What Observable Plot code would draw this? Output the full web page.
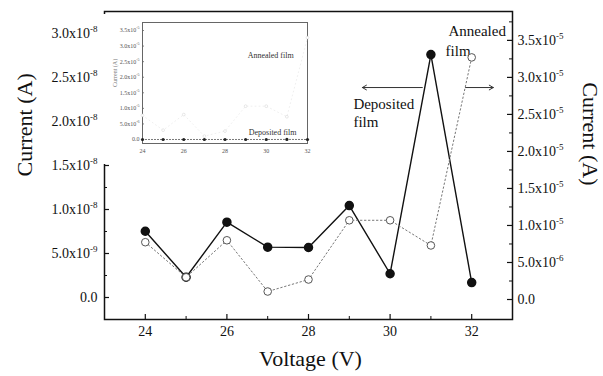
<!DOCTYPE html>
<html>
<head>
<meta charset="utf-8">
<script src="https://cdn.jsdelivr.net/npm/d3@7"></script>
<script src="https://cdn.jsdelivr.net/npm/@observablehq/plot@0.6"></script>
<style>
  body { margin: 0; background: #fff; }
  #wrap { position: relative; width: 603px; height: 376px; background: #fff; }
  #wrap > svg, #wrap > figure { position: absolute; margin: 0; }
</style>
</head>
<body>
<div id="wrap"></div>
<script>
// ---- data ----
const voltage = [24, 25, 26, 27, 28, 29, 30, 31, 32];
// Deposited film (filled circles, left axis, A)
const deposited = [0.753e-8, 0.23e-8, 0.856e-8, 0.572e-8, 0.568e-8, 1.045e-8, 0.27e-8, 2.76e-8, 0.17e-8];
// Annealed film (open circles, right axis, A)
const annealed = [0.774e-5, 0.30e-5, 0.80e-5, 0.108e-5, 0.27e-5, 1.07e-5, 1.07e-5, 0.73e-5, 3.27e-5];

const xTicks = [24, 26, 28, 30, 32];
const xMinor = [25, 27, 29, 31];
const leftTicks = [0, 0.5e-8, 1.0e-8, 1.5e-8, 2.0e-8, 2.5e-8, 3.0e-8];
const leftMinor = [0.25e-8, 0.75e-8, 1.25e-8, 1.75e-8, 2.25e-8, 2.75e-8];
const rightTicks = [0, 0.5e-5, 1.0e-5, 1.5e-5, 2.0e-5, 2.5e-5, 3.0e-5, 3.5e-5];
const rightMinor = [0.25e-5, 0.75e-5, 1.25e-5, 1.75e-5, 2.25e-5, 2.75e-5, 3.25e-5, 3.75e-5];
const insetTicks = [0, 0.5e-5, 1.0e-5, 1.5e-5, 2.0e-5, 2.5e-5, 3.0e-5, 3.5e-5];

const dep = voltage.map((v, i) => ({v, c: deposited[i]}));
const ann = voltage.map((v, i) => ({v, c: annealed[i]}));

function sci(v) {
  if (v === 0) return "0.0";
  const e = Math.floor(Math.log10(Math.abs(v)) + 1e-9);
  const m = v / Math.pow(10, e);
  return m.toFixed(1) + "x10^" + e;
}
function supify(svg, size, shift) {
  d3.select(svg).selectAll("text").each(function () {
    const t = this.textContent;
    if (t.includes("^") && this.children.length === 0) {
      const [a, b] = t.split("^");
      this.textContent = "";
      const s = d3.select(this);
      s.append("tspan").text(a);
      s.append("tspan").attr("font-size", size).attr("dy", -shift).text(b);
    }
  });
}

const serif = "'Liberation Serif', 'Times New Roman', serif";
const W = 603, H = 376;
const M = {marginLeft: 104, marginRight: 91, marginTop: 11, marginBottom: 57};
const FW = W - M.marginLeft - M.marginRight; // 408
const FH = H - M.marginTop - M.marginBottom; // 308
const ink = "#111";

// ---- main (left axis) ----
const main = Plot.plot({
  width: W, height: H, ...M,
  style: {fontFamily: serif, background: "transparent", color: ink},
  x: {domain: [23, 33]},
  y: {domain: [-0.25e-8, 3.25e-8]},
  marks: [
    Plot.frame({stroke: ink, strokeWidth: 1.5}),
    // inward ticks
    Plot.tickX(xTicks, {x: d => d, insetTop: FH - 5, stroke: ink, strokeWidth: 1.2}),
    Plot.tickX(xMinor, {x: d => d, insetTop: FH - 3, stroke: ink, strokeWidth: 1}),
    Plot.tickY(leftTicks, {y: d => d, insetRight: FW - 5, stroke: ink, strokeWidth: 1.2}),
    Plot.tickY(leftMinor, {y: d => d, insetRight: FW - 3, stroke: ink, strokeWidth: 1}),
    Plot.axisX({ticks: xTicks, tickSize: 0, tickPadding: 7, fontSize: 14, label: null, tickFormat: d => String(d)}),
    Plot.axisY({ticks: leftTicks, tickSize: 0, tickPadding: 7, fontSize: 14, label: null, tickFormat: sci}),
    Plot.line(dep, {x: "v", y: "c", stroke: ink, strokeWidth: 1.4}),
    Plot.dot(dep, {x: "v", y: "c", r: 4, fill: ink, stroke: ink}),
    Plot.text(["Current (A)"], {frameAnchor: "left", rotate: -90, dx: -80, dy: 11, fontSize: 22, fill: ink}),
    Plot.text(["Voltage (V)"], {frameAnchor: "bottom", dx: 2, dy: 46, fontSize: 22, fill: ink}),
    Plot.text(["Deposited"], {x: 29.1, y: 2.20e-8, textAnchor: "start", fontSize: 15, fill: ink}),
    Plot.text(["film"], {x: 29.1, y: 1.99e-8, textAnchor: "start", fontSize: 15, fill: ink}),
    Plot.text(["Annealed"], {x: 31.43, y: 3.03e-8, textAnchor: "start", fontSize: 15, fill: ink}),
    Plot.text(["film"], {x: 31.36, y: 2.80e-8, textAnchor: "start", fontSize: 15, fill: ink}),
    Plot.arrow([0], {x1: 30.79, x2: 29.32, y1: 2.386e-8, y2: 2.386e-8, stroke: "#333", strokeWidth: 1, headLength: 7}),
    Plot.arrow([0], {x1: 31.85, x2: 32.53, y1: 2.386e-8, y2: 2.386e-8, stroke: "#333", strokeWidth: 1, headLength: 7})
  ]
});
supify(main, 9, 6);

// ---- overlay (right axis) ----
const right = Plot.plot({
  width: W, height: H, ...M,
  style: {fontFamily: serif, background: "transparent", color: ink},
  x: {domain: [23, 33], axis: null},
  y: {domain: [-0.27e-5, 3.89e-5], axis: null},
  marks: [
    Plot.tickY(rightTicks, {y: d => d, insetLeft: FW - 5, stroke: ink, strokeWidth: 1.2}),
    Plot.tickY(rightMinor, {y: d => d, insetLeft: FW - 3, stroke: ink, strokeWidth: 1}),
    Plot.axisY({anchor: "right", ticks: rightTicks, tickSize: 0, tickPadding: 5, fontSize: 14, label: null, tickFormat: sci}),
    Plot.line(ann, {x: "v", y: "c", stroke: "#777", strokeWidth: 1, strokeDasharray: "1.5,2.5"}),
    Plot.dot(ann, {x: "v", y: "c", r: 3.8, fill: "white", stroke: "#555", strokeWidth: 1}),
    Plot.text(["Current (A)"], {frameAnchor: "right", rotate: 90, dx: 78, dy: 20, fontSize: 22, fill: ink})
  ]
});
supify(right, 9, 6);

// ---- inset ----
const IW = 215, IH = 150;
const IM = {marginLeft: 42, marginRight: 8, marginTop: 8, marginBottom: 21};
const IFW = IW - IM.marginLeft - IM.marginRight;
const inset = Plot.plot({
  width: IW, height: IH, ...IM,
  style: {fontFamily: serif, background: "white", color: "#555"},
  x: {domain: [24, 32]},
  y: {domain: [-0.128e-5, 3.757e-5]},
  marks: [
    Plot.frame({stroke: "#666", strokeWidth: 1}),
    Plot.tickY(insetTicks, {y: d => d, insetRight: IFW - 2, stroke: "#666", strokeWidth: 0.8}),
    Plot.axisX({ticks: xTicks, tickSize: 0, tickPadding: 5, fontSize: 6, label: null, tickFormat: d => String(d)}),
    Plot.axisY({ticks: insetTicks, tickSize: 0, tickPadding: 3, fontSize: 6, label: null, tickFormat: sci}),
    Plot.line(ann, {x: "v", y: "c", stroke: "#e4e4e4", strokeWidth: 0.6, strokeDasharray: "1,3"}),
    Plot.dot(ann, {x: "v", y: "c", r: 1.4, fill: "white", stroke: "#d0d0d0", strokeWidth: 0.5}),
    Plot.line(dep, {x: "v", y: "c", stroke: "#444", strokeWidth: 0.8, strokeDasharray: "1,2"}),
    Plot.dot(dep, {x: "v", y: "c", r: 1.6, fill: "#222"}),
    Plot.text(["Current (A)"], {frameAnchor: "left", rotate: -90, dx: -27, dy: 4, fontSize: 6, fill: "#777"}),
    Plot.text(["Annealed film"], {x: 29.1, y: 2.70e-5, textAnchor: "start", fontSize: 8, fill: "#333"}),
    Plot.text(["Deposited film"], {x: 29.15, y: 0.22e-5, textAnchor: "start", fontSize: 8, fill: "#333"})
  ]
});
supify(inset, 4, 3);

const wrap = document.getElementById("wrap");
main.style.left = "0px"; main.style.top = "0px";
right.style.left = "0px"; right.style.top = "0px";
inset.style.left = "100px"; inset.style.top = "14px";
wrap.appendChild(main);
wrap.appendChild(inset);
wrap.appendChild(right);
</script>
</body>
</html>
